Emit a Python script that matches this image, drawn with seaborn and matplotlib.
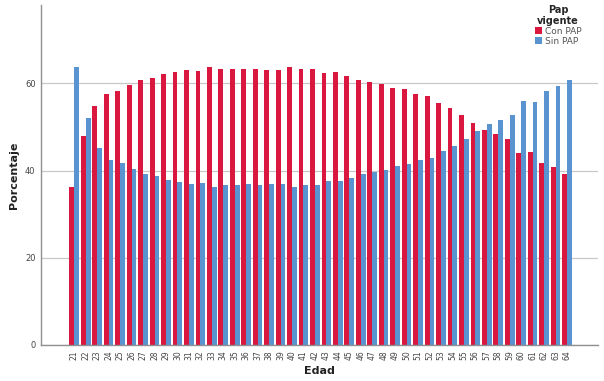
import matplotlib
matplotlib.use("Agg")
import matplotlib.pyplot as plt
import seaborn as sns
import pandas as pd

edad = list(range(21, 65))
con_pap = [36.3, 48.0, 54.8, 57.6, 58.2, 59.6, 60.8, 61.3, 62.1, 62.7,
           63.0, 62.9, 63.8, 63.4, 63.4, 63.2, 63.4, 63.0, 63.1, 63.7,
           63.4, 63.3, 62.3, 62.5, 61.7, 60.7, 60.4, 59.9, 58.9, 58.6,
           57.5, 57.2, 55.6, 54.4, 52.7, 50.9, 49.4, 48.4, 47.2, 44.1,
           44.3, 41.8, 40.7, 39.2]
sin_pap = [63.7, 52.0, 45.2, 42.4, 41.8, 40.4, 39.2, 38.7, 37.9, 37.3,
           37.0, 37.1, 36.2, 36.6, 36.6, 36.8, 36.6, 37.0, 36.9, 36.3,
           36.6, 36.7, 37.7, 37.5, 38.3, 39.3, 39.6, 40.1, 41.1, 41.4,
           42.5, 42.8, 44.4, 45.6, 47.3, 49.1, 50.6, 51.6, 52.8, 55.9,
           55.7, 58.2, 59.3, 60.8]
series = ["Con PAP", "Sin PAP"]
colors = ["#D9173F", "#5A94D0"]

df = pd.concat([
    pd.DataFrame({"Edad": [str(e) for e in edad], "Porcentaje": con_pap, "Pap vigente": series[0]}),
    pd.DataFrame({"Edad": [str(e) for e in edad], "Porcentaje": sin_pap, "Pap vigente": series[1]}),
])

sns.set_style("white")
fig = plt.figure(figsize=(6.04, 3.81), dpi=100)
ax = fig.add_axes([0.068, 0.095, 0.922, 0.892])
ax.set_axisbelow(True)
ax.yaxis.grid(True, color="#c8c8c8", linewidth=0.9)
sns.barplot(data=df, x="Edad", y="Porcentaje", hue="Pap vigente",
            palette=colors, width=0.84, ax=ax, saturation=1, linewidth=0)
ax.set_xlim(-2.9, 45.7)
ax.set_ylim(0, 78)
ax.set_yticks([0, 20, 40, 60])
for s in ["top", "right"]:
    ax.spines[s].set_visible(False)
for s in ["left", "bottom"]:
    ax.spines[s].set_color("#909090")
    ax.spines[s].set_linewidth(1.0)
ax.tick_params(axis="x", labelrotation=90, labelsize=5.5, colors="#444444", length=0, pad=4)
ax.tick_params(axis="y", labelsize=6, colors="#444444", length=0, pad=4)
ax.set_xlabel("Edad", fontsize=8, fontweight="bold", color="#222222")
ax.set_ylabel("Porcentaje", fontsize=8, fontweight="bold", color="#222222")
leg = ax.legend(title="Pap\nvigente", loc="upper right", bbox_to_anchor=(0.985, 1.025),
                frameon=False, fontsize=6.5, handlelength=0.8, handleheight=0.8,
                handletextpad=0.3, labelspacing=0.1)
leg.get_title().set_fontweight("bold")
leg.get_title().set_fontsize(7)
leg.get_title().set_multialignment("center")
leg._legend_box.align = "center"
for t in leg.get_texts():
    t.set_color("#555555")
fig.savefig("out.png", dpi=100)
